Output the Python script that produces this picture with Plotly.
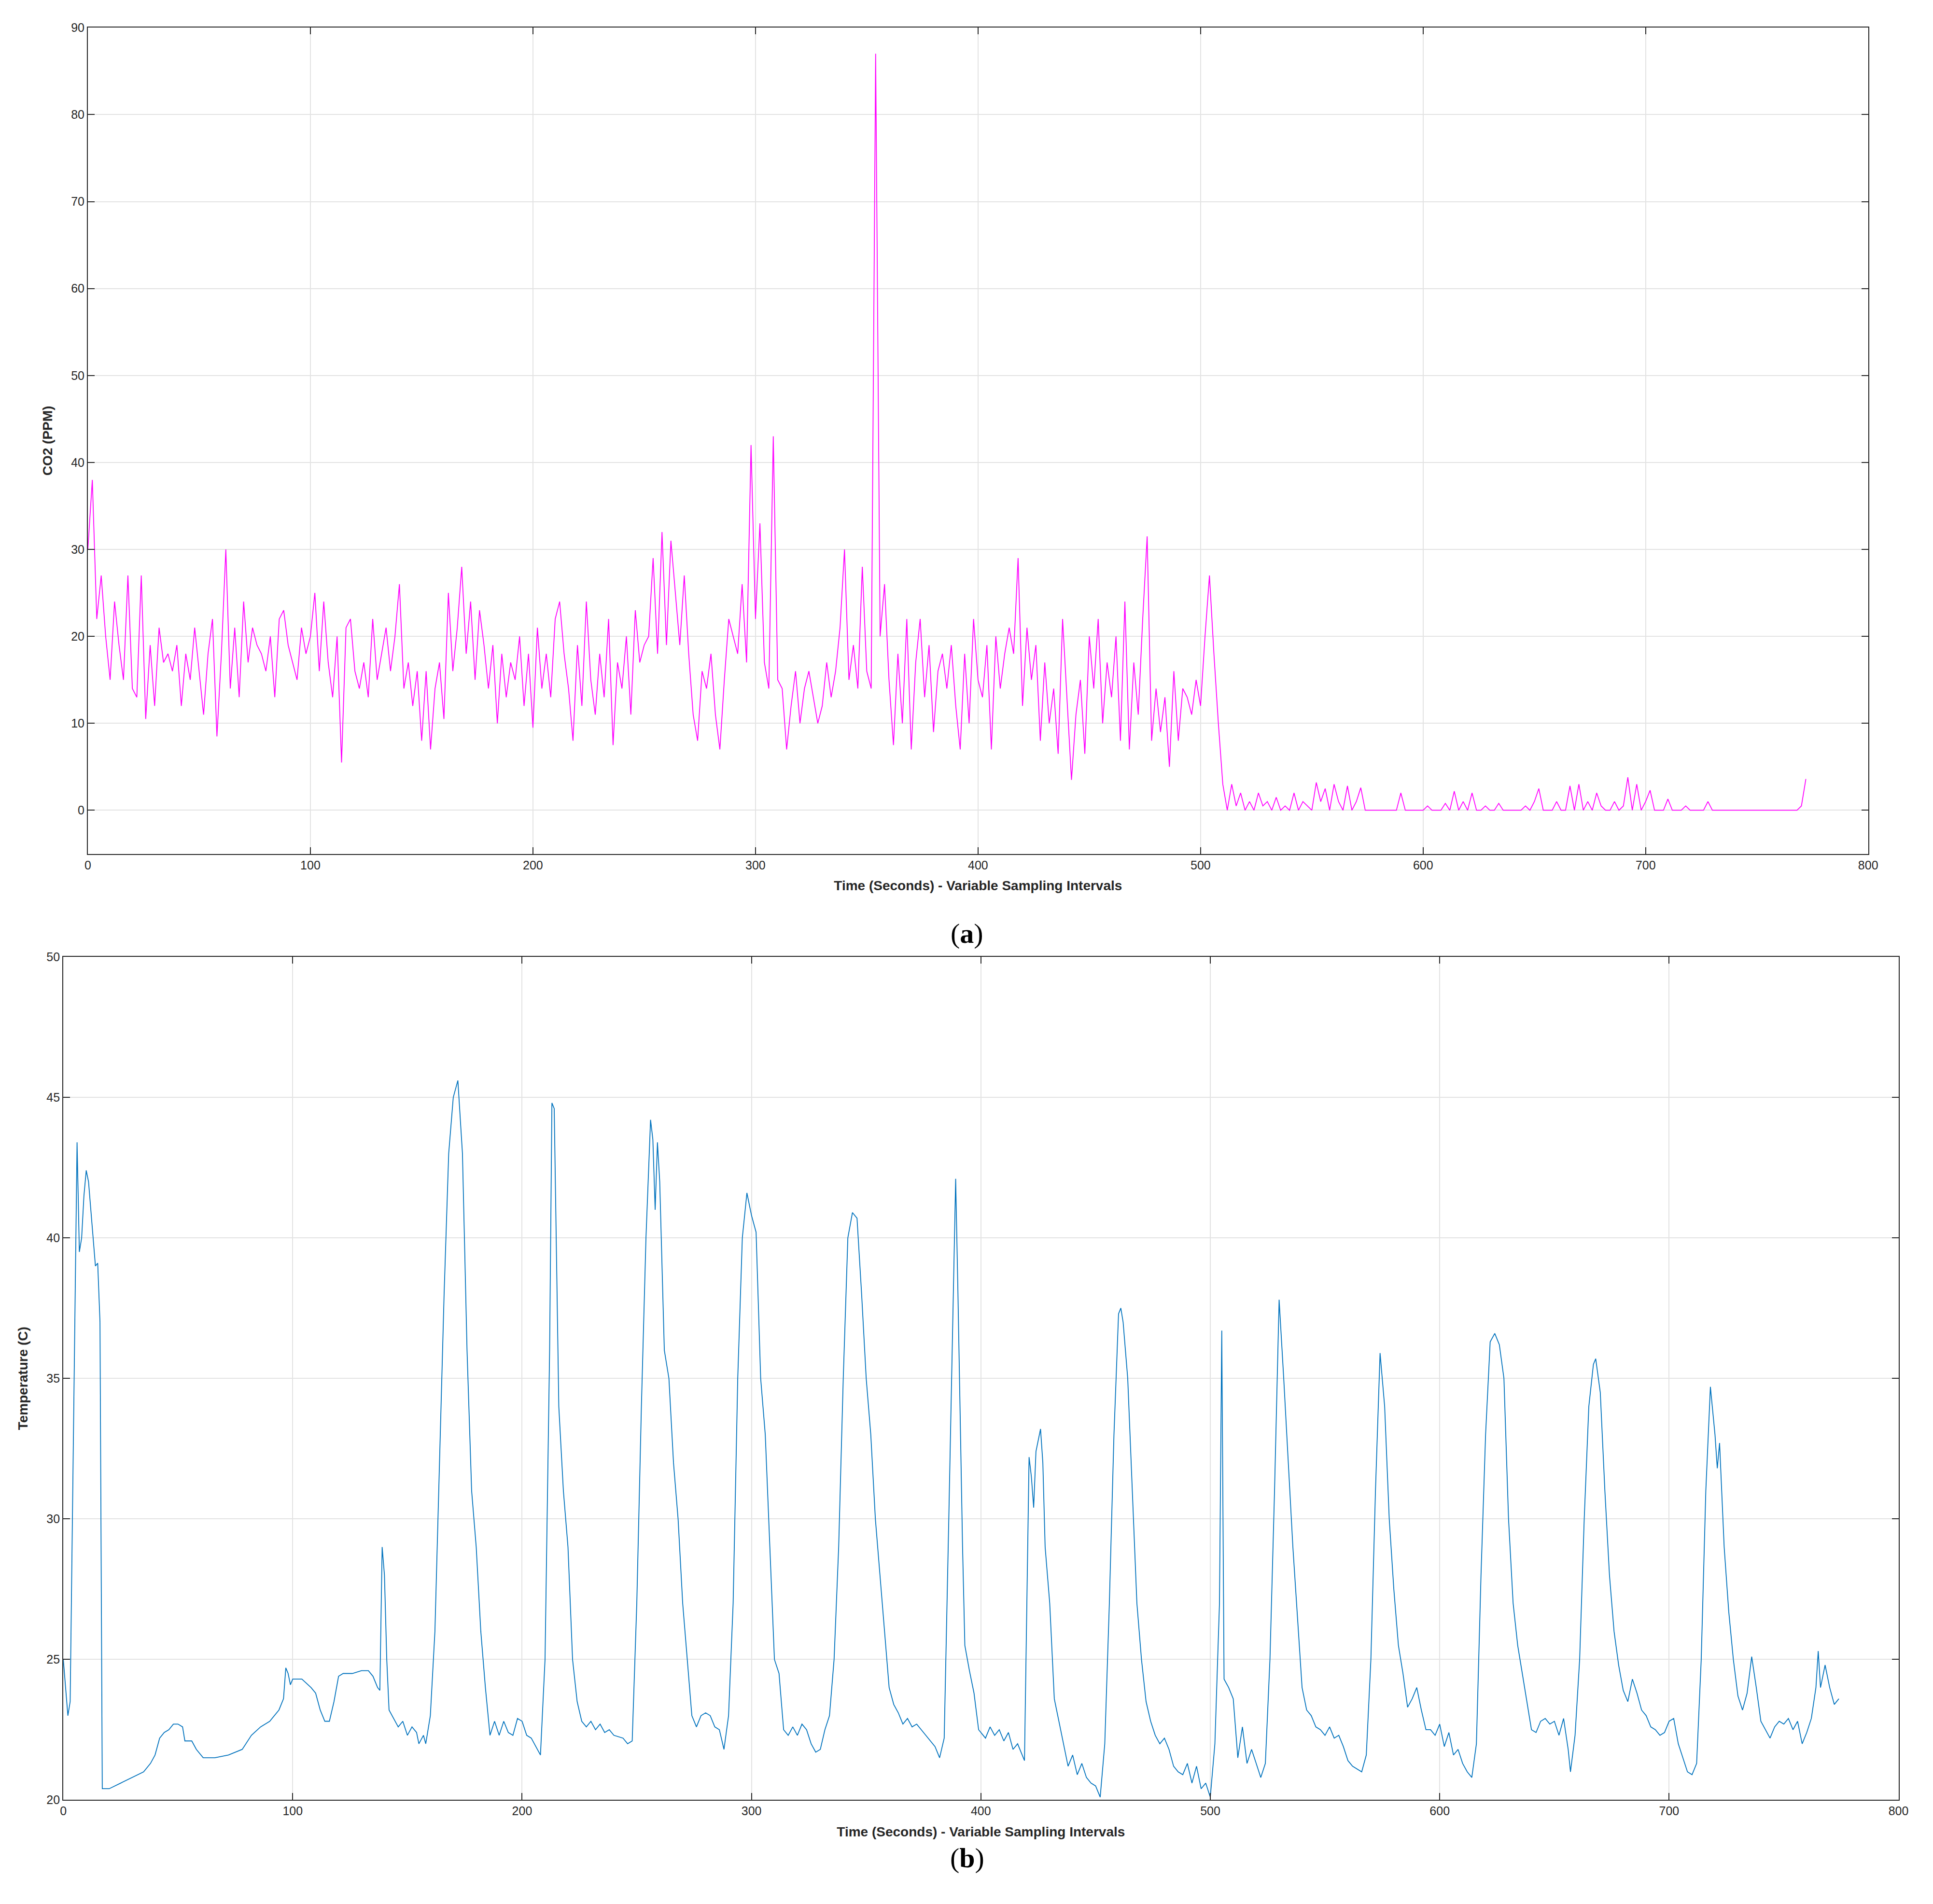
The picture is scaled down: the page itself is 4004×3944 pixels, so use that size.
import plotly.graph_objects as go

# CO2 readings, one every 2 s from 0 to 772 s
co2_ppm = [
    30, 38, 22, 27, 20, 15, 24, 19, 15, 27,
    14, 13, 27, 10.5, 19, 12, 21, 17, 18, 16,
    19, 12, 18, 15, 21, 16, 11, 18, 22, 8.5,
    18, 30, 14, 21, 13, 24, 17, 21, 19, 18,
    16, 20, 13, 22, 23, 19, 17, 15, 21, 18,
    20, 25, 16, 24, 17, 13, 20, 5.5, 21, 22,
    16, 14, 17, 13, 22, 15, 18, 21, 16, 20,
    26, 14, 17, 12, 16, 8, 16, 7, 14, 17,
    10.5, 25, 16, 21, 28, 18, 24, 15, 23, 19,
    14, 19, 10, 18, 13, 17, 15, 20, 12, 18,
    9.5, 21, 14, 18, 13, 22, 24, 18, 14, 8,
    19, 12, 24, 15, 11, 18, 13, 22, 7.5, 17,
    14, 20, 11, 23, 17, 19, 20, 29, 18, 32,
    19, 31, 25, 19, 27, 18, 11, 8, 16, 14,
    18, 11, 7, 15, 22, 20, 18, 26, 17, 42,
    22, 33, 17, 14, 43, 15, 14, 7, 12, 16,
    10, 14, 16, 13, 10, 12, 17, 13, 16, 21,
    30, 15, 19, 14, 28, 16, 14, 87, 20, 26,
    15, 7.5, 18, 10, 22, 7, 17, 22, 13, 19,
    9, 16, 18, 14, 19, 12, 7, 18, 10, 22,
    15, 13, 19, 7, 20, 14, 18, 21, 18, 29,
    12, 21, 15, 19, 8, 17, 10, 14, 6.5, 22,
    13, 3.5, 11, 15, 6.5, 20, 14, 22, 10, 17,
    13, 20, 8, 24, 7, 17, 11, 22, 31.5, 8,
    14, 9, 13, 5, 16, 8, 14, 13, 11, 15,
    12, 20, 27, 18, 10, 3,
    0, 3, 0.5, 2, 0, 1, 0, 2, 0.5, 1,
    0, 1.5, 0, 0.5, 0, 2, 0, 1, 0.5, 0,
    3.2, 1, 2.5, 0, 3, 1, 0, 2.8, 0, 1,
    2.6, 0, 0, 0, 0, 0, 0, 0, 0, 2,
    0, 0, 0, 0, 0, 0.5, 0, 0, 0, 0.8,
    0, 2.2, 0, 1, 0, 2, 0, 0, 0.5, 0,
    0, 0.8, 0, 0, 0, 0, 0, 0.5, 0, 1,
    2.5, 0, 0, 0, 1, 0, 0, 2.8, 0, 3,
    0, 1, 0, 2, 0.5, 0, 0, 1, 0, 0.5,
    3.8, 0, 3, 0, 1, 2.3, 0, 0, 0, 1.3,
    0, 0, 0, 0.5, 0, 0, 0, 0, 1, 0,
    0, 0, 0, 0, 0, 0, 0, 0, 0, 0,
    0, 0, 0, 0, 0, 0, 0, 0, 0, 0.5,
    3.6,
]
co2_time = [2 * i for i in range(len(co2_ppm))]

temp_time = [
    0, 2, 3, 4, 5, 6, 7, 8, 9, 10, 11, 12, 13, 14, 15, 16, 17, 20, 25, 30, 35, 38, 40, 42, 44, 46,
    48, 50, 52, 53, 56, 58, 61, 66, 72, 78, 82, 86, 90, 94, 96, 97, 98, 99, 100, 104, 108, 110, 112,
    114, 116, 118, 120, 122, 126, 130, 133, 135, 137, 138, 139, 140, 141, 142, 144, 146, 148, 150,
    152, 154, 155, 157, 158, 160, 162, 164, 166, 168, 170, 172, 174, 176, 178, 180, 182, 184, 186,
    188, 190, 192, 194, 196, 198, 200, 202, 204, 206, 208, 210, 212, 213, 214, 216, 218, 220, 222,
    224, 226, 228, 230, 232, 234, 236, 238, 240, 244, 246, 248, 250, 252, 254, 256, 257, 258, 259,
    260, 262, 264, 266, 268, 270, 272, 274, 276, 278, 280, 282, 284, 286, 288, 290, 292, 294, 296,
    298, 300, 302, 304, 306, 308, 310, 312, 314, 316, 318, 320, 322, 324, 326, 328, 330, 332, 334,
    336, 338, 340, 342, 344, 346, 348, 350, 352, 354, 356, 358, 360, 362, 364, 366, 368, 370, 372,
    374, 376, 378, 380, 382, 384, 386, 388, 389, 390, 392, 393, 395, 397, 399, 402, 404, 406, 408,
    410, 412, 414, 416, 418, 419, 421, 422, 423, 424, 426, 427, 428, 430, 432, 434, 436, 438, 440,
    442, 444, 446, 448, 450, 452, 454, 456, 458, 460, 461, 462, 464, 466, 468, 470, 472, 474, 476,
    478, 480, 482, 484, 486, 488, 490, 492, 494, 496, 498, 500, 502, 504, 505, 506, 508, 510, 512,
    514, 516, 518, 520, 522, 524, 526, 528, 530, 532, 534, 536, 538, 540, 542, 544, 546, 548, 550,
    552, 554, 556, 558, 560, 562, 564, 566, 568, 570, 572, 574, 576, 578, 580, 582, 584, 586, 588,
    590, 592, 594, 596, 598, 600, 602, 604, 606, 608, 610, 612, 614, 616, 618, 620, 622, 624, 626,
    628, 630, 632, 634, 636, 638, 640, 642, 644, 646, 648, 650, 652, 654, 656, 657, 659, 661, 663,
    665, 667, 668, 670, 672, 674, 676, 678, 680, 682, 684, 686, 688, 690, 692, 694, 696, 698, 700,
    702, 704, 706, 708, 710, 712, 714, 716, 718, 720, 721, 722, 724, 726, 728, 730, 732, 734, 736,
    738, 740, 742, 744, 746, 748, 750, 752, 754, 756, 758, 760, 762, 764, 765, 766, 768, 770, 772, 774,
]
temp_c = [
    25, 23, 23.5, 30, 37, 43.4, 39.5, 40, 41.5, 42.4, 42, 41, 40, 39, 39.1, 37, 20.4, 20.4, 20.6, 20.8,
    21, 21.3, 21.6, 22.2, 22.4, 22.5, 22.7, 22.7, 22.6, 22.1, 22.1, 21.8, 21.5, 21.5, 21.6, 21.8, 22.3,
    22.6, 22.8, 23.2, 23.6, 24.7, 24.5, 24.1, 24.3, 24.3, 24, 23.8, 23.2, 22.8, 22.8, 23.5, 24.4, 24.5,
    24.5, 24.6, 24.6, 24.4, 24.0, 23.9, 29.0, 28, 25, 23.2, 22.9, 22.6, 22.8, 22.3, 22.6, 22.4, 22.0,
    22.3, 22.0, 23, 26, 32, 38, 43, 45.0, 45.6, 43, 36, 31, 29, 26, 24, 22.3, 22.8, 22.3, 22.8, 22.4,
    22.3, 22.9, 22.8, 22.3, 22.2, 21.9, 21.6, 25, 36, 44.8, 44.6, 34, 31, 29, 25, 23.5, 22.8, 22.6,
    22.8, 22.5, 22.7, 22.4, 22.5, 22.3, 22.2, 22.0, 22.1, 27, 34, 40, 44.2, 43.5, 41, 43.4, 42, 36, 35,
    32, 30, 27, 25, 23, 22.6, 23, 23.1, 23.0, 22.6, 22.5, 21.8, 23, 27, 35, 40, 41.6, 40.8, 40.2, 35,
    33, 29, 25, 24.5, 22.5, 22.3, 22.6, 22.3, 22.7, 22.5, 22.0, 21.7, 21.8, 22.5, 23, 25, 29, 35, 40,
    40.9, 40.7, 38, 35, 33, 30, 28, 26, 24, 23.4, 23.1, 22.7, 22.9, 22.6, 22.7, 22.5, 22.3, 22.1, 21.9,
    21.5, 22.2, 30, 38, 42.1, 38, 29, 25.5, 24.6, 23.8, 22.5, 22.2, 22.6, 22.3, 22.5, 22.1, 22.4, 21.8,
    22.0, 21.6, 21.4, 32.2, 31.5, 30.4, 32.4, 33.2, 32, 29, 27, 23.6, 22.8, 22.0, 21.2, 21.6, 20.9,
    21.3, 20.8, 20.6, 20.5, 20.1, 22, 27, 33, 37.3, 37.5, 37, 35, 31, 27, 25, 23.5, 22.8, 22.3, 22.0,
    22.2, 21.8, 21.2, 21.0, 20.9, 21.3, 20.6, 21.2, 20.4, 20.6, 20.1, 22, 27, 36.7, 24.3, 24.0, 23.6,
    21.5, 22.6, 21.3, 21.8, 21.3, 20.8, 21.3, 25, 31, 37.8, 35, 32, 29, 26.5, 24, 23.2, 23.0, 22.6,
    22.5, 22.3, 22.6, 22.2, 22.3, 21.9, 21.4, 21.2, 21.1, 21.0, 21.6, 25, 31, 35.9, 34, 30, 27.5, 25.5,
    24.5, 23.3, 23.6, 24.0, 23.2, 22.5, 22.5, 22.3, 22.7, 21.9, 22.4, 21.6, 21.8, 21.3, 21.0, 20.8, 22,
    28, 33, 36.3, 36.6, 36.2, 35, 30, 27, 25.5, 24.5, 23.5, 22.5, 22.4, 22.8, 22.9, 22.7, 22.8, 22.3,
    22.9, 21.8, 21.0, 22.3, 25, 30, 34, 35.5, 35.7, 34.5, 31, 28, 26, 24.8, 23.9, 23.5, 24.3, 23.8,
    23.2, 23.0, 22.6, 22.5, 22.3, 22.4, 22.8, 22.9, 22.0, 21.5, 21.0, 20.9, 21.3, 25, 31, 34.7, 33,
    31.8, 32.7, 29, 26.7, 25, 23.7, 23.2, 23.8, 25.1, 24, 22.8, 22.5, 22.2, 22.6, 22.8, 22.7, 22.9,
    22.5, 22.8, 22.0, 22.4, 22.9, 24.0, 25.3, 24, 24.8, 24.0, 23.4, 23.6,
]

x_title = "<b>Time (Seconds) - Variable Sampling Intervals</b>"
tick_font = dict(family="Liberation Sans, Arial", size=25, color="#262626")
title_font = dict(family="Liberation Sans, Arial", size=28, color="#262626")

fig = go.Figure()
fig.add_trace(go.Scatter(x=co2_time, y=co2_ppm, mode="lines",
                         line=dict(color="#FF00FF", width=1.8), xaxis="x", yaxis="y"))
fig.add_trace(go.Scatter(x=temp_time, y=temp_c, mode="lines",
                         line=dict(color="#0072BD", width=1.8), xaxis="x2", yaxis="y2"))

axis_style = dict(showgrid=True, gridcolor="#e3e3e3", gridwidth=2, showline=True,
                  linecolor="#262626", linewidth=2, mirror="ticks", ticks="inside",
                  ticklen=14, tickwidth=2, tickcolor="#262626", zeroline=False,
                  tickfont=tick_font, title_font=title_font)

fig.update_layout(
    width=4004, height=3944,
    margin=dict(l=0, r=0, t=0, b=0),
    paper_bgcolor="white", plot_bgcolor="white",
    showlegend=False,
    xaxis=dict(domain=[0.042, 0.9695], anchor="y", range=[0, 800], dtick=100,
               title=dict(text=x_title, standoff=20), **axis_style),
    yaxis=dict(domain=[0.554, 0.991], anchor="x", range=[-5, 90], dtick=10,
               title=dict(text="<b>CO2 (PPM)</b>", standoff=30), **axis_style),
    xaxis2=dict(domain=[0.0292, 0.9853], anchor="y2", range=[0, 800], dtick=100,
                title=dict(text=x_title, standoff=20), **axis_style),
    yaxis2=dict(domain=[0.0535, 0.4995], anchor="x2", range=[20, 50], dtick=5,
                title=dict(text="<b>Temperature (C)</b>", standoff=30), **axis_style),
    annotations=[
        dict(text="(<b>a</b>)", x=0.5, y=0.512, xref="paper", yref="paper", showarrow=False,
             font=dict(family="Liberation Serif, Times New Roman", size=58, color="black")),
        dict(text="(<b>b</b>)", x=0.5, y=0.014, xref="paper", yref="paper", showarrow=False,
             font=dict(family="Liberation Serif, Times New Roman", size=58, color="black")),
    ],
)

fig.write_html("out.html")
